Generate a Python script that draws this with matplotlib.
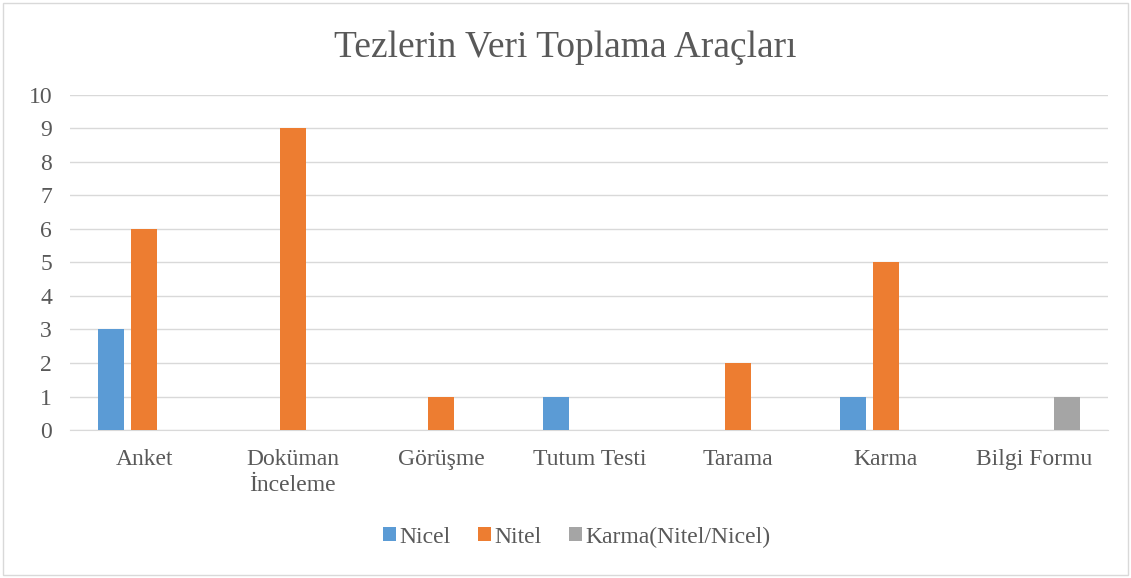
import matplotlib.pyplot as plt
import numpy as np
from matplotlib.patches import Rectangle

plt.rcParams['font.family'] = ['Liberation Serif', 'DejaVu Serif']

categories = ['Anket', 'Doküman\nİnceleme', 'Görüşme', 'Tutum Testi', 'Tarama', 'Karma', 'Bilgi Formu']
nicel = [3, 0, 0, 1, 0, 1, 0]
nitel = [6, 9, 1, 0, 2, 5, 0]
karma = [0, 0, 0, 0, 0, 0, 1]
series_names = ['Nicel', 'Nitel', 'Karma(Nitel/Nicel)']
colors = ['#5B9BD5', '#ED7D31', '#A5A5A5']
text_color = '#595959'

fig = plt.figure(figsize=(11.31, 5.78), dpi=100)
ax = fig.add_axes([0.062, 0.256, 0.918, 0.58])

x = np.arange(len(categories))
w = 0.175
off = 0.222
for i, vals in enumerate([nicel, nitel, karma]):
    ax.bar(x + (i - 1) * off, vals, width=w, color=colors[i], label=series_names[i], zorder=3)

ax.set_xlim(-0.5, len(categories) - 0.5)
ax.set_ylim(0, 10)
ax.set_yticks(range(0, 11))
ax.set_xticks(x)
ax.set_xticklabels(categories, fontsize=17, color=text_color, linespacing=1.3)
ax.tick_params(axis='y', labelsize=17, labelcolor=text_color, length=0, pad=13)
ax.tick_params(axis='x', length=0, pad=14)
ax.grid(axis='y', color='#D9D9D9', linewidth=1, zorder=0)
for s in ['top', 'right', 'left']:
    ax.spines[s].set_visible(False)
ax.spines['bottom'].set_color('#D9D9D9')

fig.suptitle('Tezlerin Veri Toplama Araçları', fontsize=27, color=text_color, y=0.948)

fig.legend(loc='center', bbox_to_anchor=(0.51, 0.071), ncol=3, frameon=False,
           fontsize=17, handlelength=0.55, handleheight=0.55, handletextpad=0.15,
           columnspacing=1.15, labelcolor=text_color)

fig.patches.append(Rectangle((0.003, 0.005), 0.994, 0.99, transform=fig.transFigure,
                             fill=False, edgecolor='#D9D9D9', linewidth=1))

fig.savefig('out.png', dpi=100)
